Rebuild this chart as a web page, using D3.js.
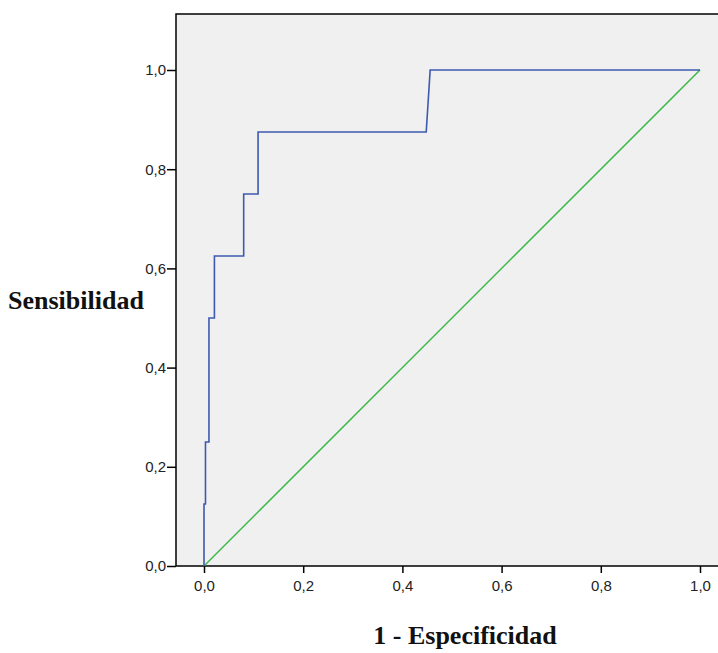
<!DOCTYPE html>
<html lang="en">
<head>
<meta charset="UTF-8">
<title>Curva COR</title>
<script src="https://d3js.org/d3.v7.min.js"></script>
<style>
    body { margin: 0; background: #fff; }
    svg { display: block; }
    .tick text { font: 15px "Liberation Sans", Arial, sans-serif; fill: #222; }
    .axis-title { font: bold 26px "Liberation Serif", "Times New Roman", serif; fill: #111; }
</style>
</head>
<body>
<div id="chart"></div>
<script>
    // ROC curve points (1 - especificidad, sensibilidad)
    var fpr = [0, 0, 0.003, 0.003, 0.010, 0.010, 0.021, 0.021, 0.080, 0.080, 0.109, 0.109, 0.448, 0.456, 1];
    var tpr = [0, 0.125, 0.125, 0.25, 0.25, 0.5, 0.5, 0.625, 0.625, 0.75, 0.75, 0.875, 0.875, 1, 1];
    // reference diagonal
    var diagX = [0, 1];
    var diagY = [0, 1];
    var ticks = [0, 0.2, 0.4, 0.6, 0.8, 1.0];

    var width = 718, height = 653;
    var box = {left: 176, top: 14, right: 730, bottom: 566};

    var svg = d3.select("#chart").append("svg")
        .attr("width", width)
        .attr("height", height);

    var x = d3.scaleLinear().domain([0, 1]).range([204, 700]);
    var y = d3.scaleLinear().domain([0, 1]).range([566, 70]);

    var fmt = function(d) { return d3.format(".1f")(d).replace(".", ","); };

    // plot background
    svg.append("rect")
        .attr("x", box.left)
        .attr("y", box.top)
        .attr("width", box.right - box.left)
        .attr("height", box.bottom - box.top)
        .attr("fill", "#f0f0f0")
        .attr("stroke", "#000")
        .attr("stroke-width", 1.5);

    var line = d3.line()
        .x(function(d) { return x(d[0]); })
        .y(function(d) { return y(d[1]); });

    // diagonal
    svg.append("path")
        .datum(d3.zip(diagX, diagY))
        .attr("d", line)
        .attr("fill", "none")
        .attr("stroke", "#3cb84a")
        .attr("stroke-width", 1.5);

    // roc curve
    svg.append("path")
        .datum(d3.zip(fpr, tpr))
        .attr("d", line)
        .attr("fill", "none")
        .attr("stroke", "#3d5aae")
        .attr("stroke-width", 1.6);

    // axes
    var xAxis = svg.append("g")
        .attr("transform", "translate(0," + box.bottom + ")")
        .call(d3.axisBottom(x).tickValues(ticks).tickFormat(fmt).tickSize(7).tickSizeOuter(0));
    xAxis.select(".domain").remove();
    xAxis.selectAll(".tick line").attr("stroke", "#000").attr("stroke-width", 1.5);
    xAxis.selectAll(".tick text").attr("y", 10).attr("dy", "1em");

    var yAxis = svg.append("g")
        .attr("transform", "translate(" + box.left + ",0)")
        .call(d3.axisLeft(y).tickValues(ticks).tickFormat(fmt).tickSize(9).tickSizeOuter(0));
    yAxis.select(".domain").remove();
    yAxis.selectAll(".tick line").attr("stroke", "#000").attr("stroke-width", 1.5);
    yAxis.selectAll(".tick text").attr("x", -10);

    // axis titles
    svg.append("text")
        .attr("class", "axis-title")
        .attr("x", 8)
        .attr("y", 309)
        .text("Sensibilidad");

    svg.append("text")
        .attr("class", "axis-title")
        .attr("x", 465)
        .attr("y", 644)
        .attr("text-anchor", "middle")
        .text("1 - Especificidad");
</script>
</body>
</html>
